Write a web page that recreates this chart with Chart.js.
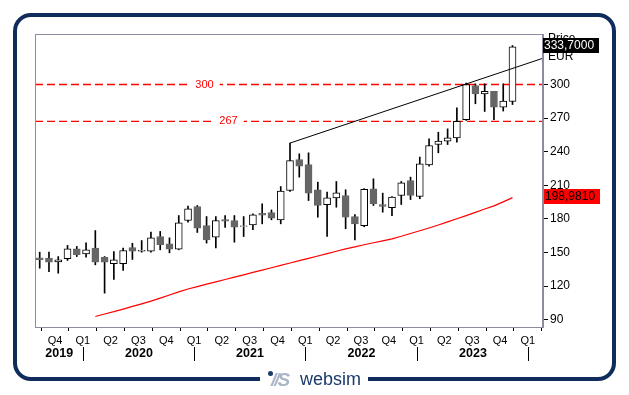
<!DOCTYPE html>
<html><head><meta charset="utf-8">
<script src="https://cdn.jsdelivr.net/npm/chart.js@4.4.1/dist/chart.umd.min.js"></script>
<style>
html,body{margin:0;padding:0;background:#fff;}
#wrap{position:relative;width:629px;height:395px;overflow:hidden;background:#fff;}
#c{position:absolute;left:0;top:0;}
#frame{position:absolute;left:13px;top:13px;width:603px;height:368px;box-sizing:border-box;border:4px solid #0f2c5c;border-radius:18px;pointer-events:none;}
#gap{position:absolute;left:260px;top:374px;width:108px;height:10px;background:#fff;}
#dot{position:absolute;left:268px;top:371px;width:5px;height:5px;border-radius:50%;background:#1b3a6b;}
#mark{position:absolute;left:271px;top:370px;font:italic bold 19px 'Liberation Sans',Arial,sans-serif;color:#aab6c8;letter-spacing:-2px;line-height:20px;}
#word{position:absolute;left:300px;top:369px;font:18px 'Liberation Sans',Arial,sans-serif;color:#1b3a6b;line-height:20px;}
</style>
</head><body>
<div id="wrap">
<canvas id="c" width="629" height="395"></canvas>
<div id="frame"></div>
<div id="gap"></div>
<div id="dot"></div>
<div id="mark">//S</div>
<div id="word">websim</div>
</div>
<script>
// ---- data (monthly candles, Aug 2019 .. Nov 2023; index 0 = Aug 2019) ----
const openP  = [145.3,145.0,141.7,144.4,153.3,148.8,153.9,145.8,140.0,140.0,154.5,151.2,151.2,164.3,157.8,153.0,178.6,191.1,174.1,163.7,179.5,178.6,173.2,174.7,185.0,185.7,179.2,205.4,233.0,228.6,206.0,192.6,198.8,200.9,182.1,173.9,206.9,192.9,190.0,200.9,214.3,200.0,228.3,246.4,249.4,252.4,268.5,299.1,291.7,293.8,279.8,284.8];
const highP  = [150.3,150.3,146.4,156.3,155.4,158.6,169.6,146.4,150.9,153.9,158.3,160.7,168.2,168.8,163.1,183.0,191.4,192.0,182.1,182.1,183.0,183.0,182.1,184.5,193.5,188.0,208.9,247.7,238.1,239.0,212.8,203.9,213.4,206.0,183.9,207.0,215.8,203.0,200.0,213.4,217.3,235.2,251.5,257.4,260.4,279.2,301.2,300.6,300.6,293.8,300.6,334.8];
const lowP   = [136.0,133.0,131.5,142.9,146.4,145.8,139.0,113.7,125.9,134.0,143.8,150.3,150.3,152.4,149.7,152.4,177.0,167.9,158.4,154.0,172.5,159.2,164.3,170.3,175.6,179.2,175.6,204.5,217.3,196.4,181.5,164.3,190.4,171.2,161.3,173.0,192.0,186.0,183.0,192.9,197.3,198.0,227.0,239.0,246.4,248.5,267.9,282.8,275.9,268.5,276.3,282.1];
const closeP = [143.5,141.3,143.5,153.3,148.0,152.4,141.3,141.3,143.5,151.8,151.2,152.0,163.1,156.9,153.0,176.5,189.0,171.7,161.3,178.6,178.0,172.6,173.8,183.6,183.4,180.7,204.8,232.1,227.0,203.0,192.0,198.8,203.3,181.5,175.6,206.3,193.5,191.1,199.5,212.2,200.9,229.2,245.5,249.4,252.4,267.2,300.0,291.7,293.8,279.8,285.1,333.7];
// moving average (red), starts at month index 6 (Feb 2020)
const maStart = 6;
const maValues = [92.9,95.1,97.2,99.5,101.9,104.2,106.6,109.3,112.1,114.8,117.4,119.6,121.7,123.8,125.9,128.0,130.1,132.2,134.3,136.4,138.5,140.6,142.7,144.8,146.9,149.0,151.1,153.2,155.1,156.9,158.7,160.4,162.2,164.5,167.0,169.4,171.9,174.6,177.4,180.1,182.9,185.8,188.8,191.6,195.2,198.981];
const quarterLabels = ['Q4','Q1','Q2','Q3','Q4','Q1','Q2','Q3','Q4','Q1','Q2','Q3','Q4','Q1','Q2','Q3','Q4','Q1'];
const yearLabels = ['2019','2020','2021','2022','2023'];
const yTicks = [90,120,150,180,210,240,270,300];
const hLevels = [300, 267];
const trendX = [27, 54.3];
const trendY = [247.7, 323.5];
const lastCloseLabel = '333,7000';
const lastMALabel = '198,9810';

// ---- view settings ----
const xMin = -0.507, xMax = 54.29;
const yMin = 83.49, yMax = 345.09;
const FONT = "'Liberation Sans', Arial, sans-serif";
const quarterPos = quarterLabels.map((_, k) => 2 + 3 * k - 0.35);

const idx = openP.map((_, i) => i);
const wickData = idx.map(i => ({x: i, y: [lowP[i], highP[i]]}));
const bodyData = idx.map(i => ({x: i, y: [Math.min(openP[i], closeP[i]), Math.max(openP[i], closeP[i])]}));
const isUp = i => closeP[i] >= openP[i];
const maData = maValues.map((v, k) => ({x: maStart + k, y: v}));

const decor = {
  id: 'decor',
  afterDatasetsDraw(chart) {
    const ctx = chart.ctx, a = chart.chartArea;
    const xs = chart.scales.x, ys = chart.scales.y;
    ctx.save();
    // level labels
    const labelPx = [204.5, 228.5];
    ctx.font = '11px ' + FONT;
    ctx.textAlign = 'center'; ctx.textBaseline = 'middle';
    hLevels.forEach((lv, k) => {
      const y = ys.getPixelForValue(lv);
      const t = String(lv);
      const w = ctx.measureText(t).width;
      ctx.fillStyle = '#fff';
      ctx.fillRect(labelPx[k] - w / 2 - 6, y - 3, w + 12, 6);
      ctx.fillStyle = '#ff0000';
      ctx.fillText(t, labelPx[k], y);
    });
    // plot border
    ctx.strokeStyle = '#8c8ca0'; ctx.lineWidth = 1;
    ctx.strokeRect(a.left + 0.5, a.top + 0.5, a.right - a.left - 1, a.bottom - a.top);
    // year separators and labels
    const q1 = quarterPos.filter((_, k) => quarterLabels[k] === 'Q1').map(v => Math.round(xs.getPixelForValue(v)) + 0.5);
    ctx.strokeStyle = '#000';
    q1.forEach(px => { ctx.beginPath(); ctx.moveTo(px, 347); ctx.lineTo(px, 361); ctx.stroke(); });
    const bounds = [a.left].concat(q1);
    ctx.font = 'bold 12.5px ' + FONT; ctx.fillStyle = '#000';
    yearLabels.forEach((yl, k) => {
      ctx.fillText(yl, (bounds[k] + bounds[k + 1]) / 2, 354);
    });
    // axis title
    ctx.font = '12px ' + FONT; ctx.textAlign = 'left';
    ctx.fillText('Price', 548, 39);
    ctx.fillText('EUR', 548, 57);
    // value boxes
    const yc = ys.getPixelForValue(closeP[closeP.length - 1]) - 0.8;
    ctx.fillStyle = '#000'; ctx.fillRect(543, Math.round(yc - 7.5), 56, 15);
    ctx.fillStyle = '#fff'; ctx.fillText(lastCloseLabel, 544, yc);
    const ym = ys.getPixelForValue(maValues[maValues.length - 1]) - 0.8;
    ctx.fillStyle = '#ff0000'; ctx.fillRect(544, Math.round(ym - 7.5), 56, 15);
    ctx.fillStyle = '#000'; ctx.fillText(lastMALabel, 545, ym);
    ctx.restore();
  }
};

new Chart(document.getElementById('c'), {
  type: 'bar',
  data: {
    datasets: [
      {type: 'line', data: trendX.map((x, k) => ({x, y: trendY[k]})), borderColor: '#000', borderWidth: 1, pointRadius: 0, tension: 0, order: -1},
      {type: 'bar', data: bodyData, barThickness: 7, grouped: false, order: 0,
        backgroundColor: c => isUp(c.dataIndex) ? '#ffffff' : '#666666',
        borderColor: c => isUp(c.dataIndex) ? '#000000' : '#666666',
        borderWidth: 1, borderSkipped: false},
      {type: 'bar', data: wickData, barThickness: 1, grouped: false, order: 1, backgroundColor: '#000', borderWidth: 0},
      {type: 'line', data: maData, borderColor: '#ff0000', borderWidth: 1.2, pointRadius: 0, tension: 0, order: 2},
      ...hLevels.map(lv => ({type: 'line', data: [{x: xMin, y: lv}, {x: xMax, y: lv}], borderColor: '#ff0000', borderWidth: 1.3, borderDash: [8, 4], pointRadius: 0, order: 3}))
    ]
  },
  options: {
    responsive: false, animation: false, devicePixelRatio: 1,
    layout: {padding: {left: 35, top: 34, right: 0, bottom: 0}},
    plugins: {legend: {display: false}, tooltip: {enabled: false}},
    scales: {
      x: {
        type: 'linear', min: xMin, max: xMax, offset: false, position: 'bottom',
        grid: {display: true, drawOnChartArea: false, drawTicks: true, tickLength: 4, tickColor: '#000'},
        border: {display: true, color: '#8c8ca0'},
        afterBuildTicks: s => { s.ticks = quarterPos.map(v => ({value: v})); },
        ticks: {autoSkip: false, maxRotation: 0, minRotation: 0, padding: 3, color: '#000', font: {family: FONT, size: 11},
          callback: (v, i) => quarterLabels[i]},
        afterFit: s => { s.height = 68; }
      },
      y: {
        type: 'linear', position: 'right', min: yMin, max: yMax,
        grid: {display: true, drawOnChartArea: false, drawTicks: true, tickLength: 5, tickColor: '#000'},
        border: {display: true, color: '#8c8ca0'},
        afterBuildTicks: s => { s.ticks = yTicks.map(v => ({value: v})); },
        ticks: {padding: 2, color: '#000', font: {family: FONT, size: 12}, callback: v => String(v)},
        afterFit: s => { s.width = 86; }
      }
    }
  },
  plugins: [decor]
});
</script>
</body></html>
